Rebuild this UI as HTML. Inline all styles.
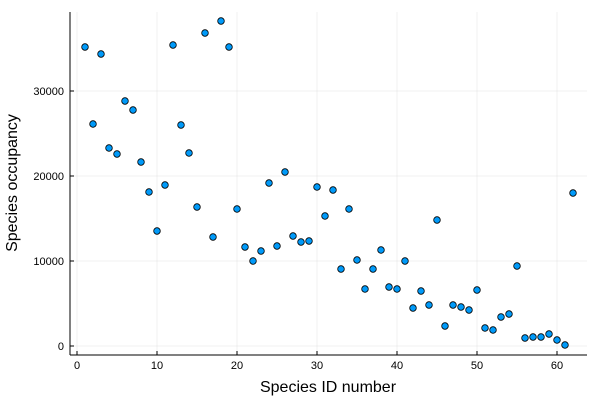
<!DOCTYPE html>
<html><head><meta charset="utf-8"><style>
body{margin:0;background:#fff}
svg{display:block;font-family:"Liberation Sans",sans-serif}
</style></head><body>
<svg id="chart" width="600" height="400">
<g id="grid"></g>
<g id="axes"></g>
<g id="points"></g>
<text x="328" y="392" font-size="16" text-anchor="middle">Species ID number</text>
<text x="17" y="183" font-size="16" text-anchor="middle" transform="rotate(-90 17 183)">Species occupancy</text>
</svg>
<script>
const speciesIds=[];for(let i=1;i<=62;i++)speciesIds.push(i);
const occupancy=[35176,26118,34353,23294,22588,28824,27765,21647,18118,13529,18941,35412,26000,22706,16353,36824,12824,38235,35176,16118,11647,10000,11176,19176,11765,20471,12941,12235,12353,18706,15294,18353,9059,16118,10118,6706,9059,11294,6941,6706,10000,4471,6471,4824,14824,2353,4824,4588,4235,6588,2118,1882,3412,3765,9412,941,1059,1059,1412,706,118,18000];
const xTicks=[0,10,20,30,40,50,60];
const yTicks=[0,10000,20000,30000];
const ns="http://www.w3.org/2000/svg";
const L=70,R=587,T=12,B=355;
const xs=v=>77+v*8;
const ys=v=>346-v*85/10000;
const grid=document.getElementById('grid'),axes=document.getElementById('axes'),pts=document.getElementById('points');
function mk(tag,attrs,parent){const e=document.createElementNS(ns,tag);for(const k in attrs)e.setAttribute(k,attrs[k]);parent.appendChild(e);return e;}
xTicks.forEach(t=>{
 const g=mk('line',{x1:xs(t),x2:xs(t),y1:T,y2:B,stroke:'#000','stroke-opacity':0.1,'stroke-width':0.5},grid);
 
 
 const tk=mk('line',{x1:xs(t),x2:xs(t),y1:B,y2:B-4,stroke:'#000'},axes);
 
 
 const tx=mk('text',{x:xs(t),y:B+14,'font-size':11,'text-anchor':'middle'},axes);tx.textContent=t;
 
 
});
yTicks.forEach(t=>{
 const g=mk('line',{x1:L,x2:R,y1:ys(t),y2:ys(t),stroke:'#000','stroke-opacity':0.1,'stroke-width':0.5},grid);
 
 
 const tk=mk('line',{x1:L,x2:L+4,y1:ys(t),y2:ys(t),stroke:'#000'},axes);
 
 
 const tx=mk('text',{x:L-6,y:ys(t)+4,'font-size':11,'text-anchor':'end'},axes);tx.textContent=t;
 
 
});
const xa=mk('line',{x1:L,x2:R,y1:B,y2:B,stroke:'#000'},axes);


const ya=mk('line',{x1:L,x2:L,y1:T,y2:B,stroke:'#000'},axes);


speciesIds.forEach((id,i)=>{
 const c=mk('circle',{cx:xs(id),cy:ys(occupancy[i]),r:3.3,fill:'#009af9',stroke:'#000','stroke-width':0.8},pts);
 
 
});
</script>
</body></html>
